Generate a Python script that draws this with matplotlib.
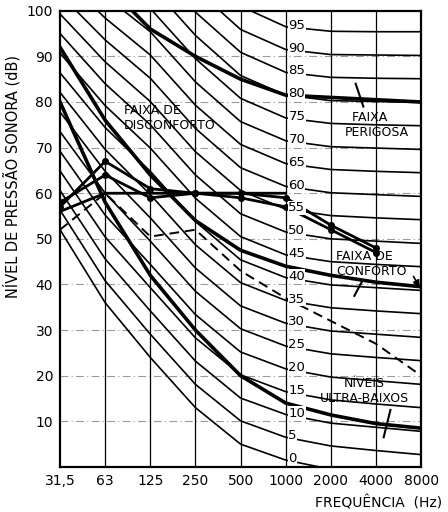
import matplotlib
matplotlib.use("Agg")
import matplotlib.pyplot as plt

# octave band centres and their tick labels
freq_labels = ["31,5", "63", "125", "250", "500", "1000", "2000", "4000", "8000"]
x = list(range(len(freq_labels)))

# rating curves, one row per curve label (dB per octave band)
curve_labels = [0, 5, 10, 15, 20, 25, 30, 35, 40, 45, 50, 55, 60, 65, 70, 75, 80, 85, 90, 95]
curve_levels = [
    [52.0, 36.0, 24.0, 13.0, 5.0, 1.5, -0.5, -1.5, -2.5],
    [56.3, 40.8, 29.1, 18.1, 10.1, 6.5, 4.6, 3.6, 2.7],
    [60.6, 45.6, 34.2, 23.2, 15.1, 11.5, 9.6, 8.7, 7.8],
    [64.9, 50.4, 39.3, 28.3, 20.2, 16.5, 14.7, 13.8, 13.0],
    [69.2, 55.2, 44.4, 33.4, 25.2, 21.5, 19.7, 18.9, 18.1],
    [73.5, 60.0, 49.5, 38.5, 30.3, 26.5, 24.8, 24.0, 23.3],
    [77.8, 64.8, 54.6, 43.6, 35.3, 31.5, 29.8, 29.1, 28.4],
    [82.1, 69.6, 59.7, 48.7, 40.4, 36.5, 34.9, 34.2, 33.6],
    [86.4, 74.4, 64.8, 53.8, 45.4, 41.5, 39.9, 39.3, 38.7],
    [90.7, 79.2, 69.9, 58.9, 50.5, 46.5, 45.0, 44.4, 43.9],
    [95.0, 84.0, 75.0, 64.0, 55.5, 51.5, 50.0, 49.5, 49.0],
    [99.3, 88.8, 80.1, 69.1, 60.6, 56.5, 55.1, 54.6, 54.2],
    [103.6, 93.6, 85.2, 74.2, 65.6, 61.5, 60.1, 59.7, 59.3],
    [107.9, 98.4, 90.3, 79.3, 70.7, 66.5, 65.2, 64.8, 64.5],
    [112.2, 103.2, 95.4, 84.4, 75.7, 71.5, 70.2, 69.9, 69.6],
    [116.5, 108.0, 100.5, 89.5, 80.8, 76.5, 75.3, 75.0, 74.8],
    [120.8, 112.8, 105.6, 94.6, 85.8, 81.5, 80.3, 80.1, 79.9],
    [125.1, 117.6, 110.7, 99.7, 90.9, 86.5, 85.4, 85.2, 85.1],
    [129.4, 122.4, 115.8, 104.8, 95.9, 91.5, 90.4, 90.3, 90.2],
    [133.7, 127.2, 120.9, 109.9, 101.0, 96.5, 95.5, 95.4, 95.4],
]

# heavy boundary lines between the bands
limit_danger = [118, 106, 96, 90, 85, 81.5, 81, 80.5, 80]
limit_comfort = [92, 76, 64, 54, 47.5, 44, 42, 40.5, 39.5]
limit_ultralow = [80, 58, 42, 30, 20, 14, 11.4, 9.5, 8.5]

# measured spectra (solid) up to 4000 Hz and the dashed one over all bands
spectrum_a = [57, 67, 61, 60, 60, 59, 53, 48]
spectrum_b = [58, 64, 59, 60, 59, 57, 52, 47]
spectrum_flat = [56, 60, 60, 60, 60, 60]
spectrum_dashed = [52, 60, 50.5, 52, 43, 37, 32, 27, 20]

fig = plt.figure(figsize=(4.48, 5.12), dpi=100)
ax = fig.add_axes([0.134, 0.088, 0.806, 0.891])

# grid: dash-dot horizontals, plain verticals
for lvl in range(10, 100, 10):
    ax.axhline(lvl, color="#9a9a9a", lw=0.8, ls=(0, (7, 3, 1, 3)), zorder=1)
for xi in x[1:-1]:
    ax.axvline(xi, color="black", lw=0.9, zorder=1)

for lab, row in zip(curve_labels, curve_levels):
    ax.plot(x, row, color="black", lw=1.2, zorder=2)
    # label each curve right of the 1000 Hz line
    ax.text(5.06, row[5] + 0.3, str(lab), fontsize=9.5, va="center", ha="left",
            color="black", zorder=4,
            bbox=dict(facecolor="white", edgecolor="none", pad=0.2))

for row in (limit_danger, limit_comfort, limit_ultralow):
    ax.plot(x, row, color="black", lw=2.6, zorder=2)

ax.plot(x[:8], spectrum_a, color="black", lw=2.0, marker="o", ms=4, zorder=3)
ax.plot(x[:8], spectrum_b, color="black", lw=2.0, marker="o", ms=4, zorder=3)
ax.plot(x[:6], spectrum_flat, color="black", lw=2.0, zorder=3)
ax.plot(x, spectrum_dashed, color="black", lw=1.4, ls=(0, (5, 3)), zorder=3)

# region names and the pointers onto the boundary lines
txt = dict(fontsize=9, color="black", zorder=5, linespacing=1.15)
ax.text(1.42, 76.5, "FAIXA DE\nDISCONFORTO", ha="left", va="center", **txt)
ax.text(6.3, 75.0, "  FAIXA\nPERIGOSA", ha="left", va="center", **txt)
ax.text(6.12, 44.5, "FAIXA DE\nCONFORTO", ha="left", va="center", **txt)
ax.text(6.75, 16.7, "NÍVEIS\nULTRA-BAIXOS", ha="center", va="center", **txt)
ax.plot([6.55, 6.72], [84.0, 79.0], color="black", lw=1.5, zorder=5)
ax.plot([6.7, 6.52], [40.8, 37.5], color="black", lw=1.5, zorder=5)
ax.plot([7.32, 7.17], [12.5, 6.5], color="black", lw=1.5, zorder=5)
ax.annotate("", xy=(8.0, 38.8), xytext=(7.8, 42.3),
            arrowprops=dict(arrowstyle="-|>", color="black", lw=1.2), zorder=5)

ax.set_xlim(0, 8)
ax.set_ylim(0, 100)
ax.set_xticks(x)
ax.set_xticklabels(freq_labels, fontsize=10)
ax.set_yticks(range(10, 101, 10))
ax.set_yticklabels([str(v) for v in range(10, 101, 10)], fontsize=10)
ax.tick_params(length=0, pad=5)
for sp in ax.spines.values():
    sp.set_linewidth(1.6)

ax.set_ylabel("NÍVEL DE PRESSÃO SONORA (dB)", fontsize=10.5)
ax.yaxis.set_label_coords(-0.11, 0.636)
fig.text(0.987, 0.002, "FREQUÊNCIA  (Hz)", fontsize=10, ha="right", va="bottom")

fig.savefig("out.png", dpi=100)
